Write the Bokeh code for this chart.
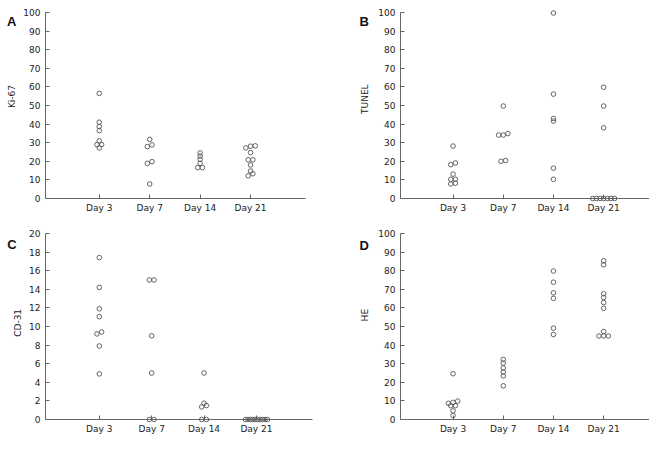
import math
from bokeh.plotting import figure
from bokeh.models import Range1d, FixedTicker, Label, ColumnDataSource
from bokeh.layouts import row, column
from bokeh.embed import file_html
from bokeh.resources import INLINE

# ---------------- data ----------------
days = ["Day 3", "Day 7", "Day 14", "Day 21"]

ki67 = [
    [56.5, 41.0, 38.7, 36.5, 31.0, 29.0, 29.0, 27.2],
    [31.8, 28.8, 27.9, 19.8, 18.9, 7.8],
    [24.5, 22.8, 21.0, 18.9, 16.6, 16.6],
    [28.3, 28.1, 27.2, 24.7, 20.8, 20.8, 18.0, 14.8, 13.3, 12.2],
]
tunel = [
    [28.2, 19.1, 18.2, 13.1, 10.3, 10.3, 8.2, 7.8],
    [49.7, 34.9, 34.1, 34.1, 20.4, 20.0],
    [99.7, 56.1, 43.0, 41.6, 16.3, 10.3],
    [59.8, 49.7, 38.0, 0, 0, 0, 0, 0, 0, 0],
]
cd31 = [
    [17.4, 14.2, 11.9, 11.05, 9.4, 9.2, 7.9, 4.9],
    [15.0, 15.0, 9.0, 5.0, 0, 0],
    [5.0, 1.75, 1.5, 1.35, 0, 0],
    [0, 0, 0, 0, 0, 0, 0, 0, 0, 0],
]
he = [
    [24.6, 9.9, 9.2, 8.7, 7.4, 7.4, 4.6, 2.1],
    [32.3, 30.3, 27.7, 25.5, 23.4, 18.1],
    [79.8, 73.8, 68.1, 65.1, 49.1, 45.7],
    [85.3, 83.2, 67.6, 65.6, 62.9, 59.8, 47.3, 44.9, 44.9, 44.9],
]

ticks_100 = [0, 10, 20, 30, 40, 50, 60, 70, 80, 90, 100]
ticks_20 = [0, 2, 4, 6, 8, 10, 12, 14, 16, 18, 20]

FONT = "DejaVu Sans"
AXIS_COLOR = "#666666"
TEXT_COLOR = "#222222"


def spread(vals, ppu, ppx, tol=2.35, step=4.7, max_span=22.0):
    """Dot-plot spreading: near-equal values are placed side by side."""
    order = sorted(range(len(vals)), key=lambda i: vals[i])
    clusters = []
    for i in order:
        if clusters and (vals[i] - vals[clusters[-1][0]]) * ppu < tol:
            clusters[-1].append(i)
        else:
            clusters.append([i])
    offs = [0.0] * len(vals)
    for cl in clusters:
        k = len(cl)
        span = min((k - 1) * step, max_span)
        for j, i in enumerate(cl):
            px = -span / 2 + (span * j / (k - 1) if k > 1 else 0.0)
            offs[i] = px / ppx
    return offs


def side(W, H, letter, lx, l_cy, title, t_cx, t_cy):
    """Narrow strip holding the panel letter and the rotated y title."""
    s = figure(width=W, height=H, output_backend="svg", toolbar_location=None,
               x_range=Range1d(0, W), y_range=Range1d(0, H),
               x_axis_location=None, y_axis_location=None, min_border=0)
    s.outline_line_color = None
    s.background_fill_color = "white"
    s.border_fill_color = "white"
    for g in s.grid:
        g.visible = False
    s.add_layout(Label(x=lx, y=H - l_cy, text=letter,
                       text_font="Liberation Sans", text_font_style="bold",
                       text_font_size="13px", text_color="#111111",
                       text_align="left", text_baseline="middle"))
    s.add_layout(Label(x=t_cx, y=H - t_cy, text=title, angle=math.pi / 2,
                       text_font=FONT, text_font_size="9px",
                       text_color=TEXT_COLOR,
                       text_align="center", text_baseline="middle"))
    return s


def panel(groups, ymax, yticks, W, H, L, FW, top_px, zero_px, xr):
    pad_t = 3
    frame_top = top_px - pad_t
    ppu = (zero_px - top_px) / ymax
    ppx = FW / (xr[1] - xr[0])

    p = figure(width=W, height=H, output_backend="svg", toolbar_location=None,
               x_range=Range1d(xr[0], xr[1]),
               y_range=Range1d(0, ymax + pad_t / ppu),
               min_border_left=L, min_border_right=W - L - FW,
               min_border_top=frame_top, min_border_bottom=H - zero_px)
    p.outline_line_color = None
    p.background_fill_color = "white"
    p.border_fill_color = "white"
    p.xgrid.visible = False
    p.ygrid.visible = False

    xs, ys = [], []
    for gi, vals in enumerate(groups):
        offs = spread(vals, ppu, ppx)
        for v, o in zip(vals, offs):
            xs.append(gi + 1 + o)
            ys.append(v)
    src = ColumnDataSource(data=dict(x=xs, y=ys))
    r = p.scatter("x", "y", source=src, marker="circle", size=4.6,
                  fill_color=None, line_color="#555555", line_width=0.9)
    r.level = "overlay"

    xa = p.xaxis[0]
    xa.ticker = FixedTicker(ticks=[i + 1 for i in range(len(days))])
    xa.major_label_overrides = {i + 1: d for i, d in enumerate(days)}
    ya = p.yaxis[0]
    ya.ticker = FixedTicker(ticks=yticks)
    ya.bounds = (0, ymax)

    for ax, so in ((xa, 4), (ya, 5)):
        ax.axis_line_color = AXIS_COLOR
        ax.axis_line_width = 1
        ax.major_tick_line_color = AXIS_COLOR
        ax.major_tick_in = 4
        ax.major_tick_out = 0
        ax.minor_tick_line_color = None
        ax.major_label_standoff = so
        ax.major_label_text_font = FONT
        ax.major_label_text_font_size = "9px"
        ax.major_label_text_color = TEXT_COLOR
    return p


H1, H2 = 215, 221

sA = side(20, H1, "A", 6.5, 13.8, "Ki-67", 11.7, 99)
pA = panel(ki67, 100, ticks_100, 309, H1, 25, 260, 12, 200, (-0.066, 5.09))
sB = side(46, H1, "B", 30, 13.8, "TUNEL", 35.5, 102)
pB = panel(tunel, 100, ticks_100, 274, H1, 23, 251, 12, 200, (-0.047, 4.913))

sC = side(22, H2, "C", 6.7, 16.7, "CD-31", 17.5, 108)
pC = panel(cd31, 20, ticks_20, 307, H2, 23, 267, 16, 206, (-0.027, 5.07))
sD = side(46, H2, "D", 30, 17.8, "HE", 35.5, 99)
pD = panel(he, 100, ticks_100, 274, H2, 23, 251, 18, 206, (-0.047, 4.913))

layout = column(row(sA, pA, sB, pB), row(sC, pC, sD, pD))

open("out.html", "w").write(file_html(layout, INLINE))
